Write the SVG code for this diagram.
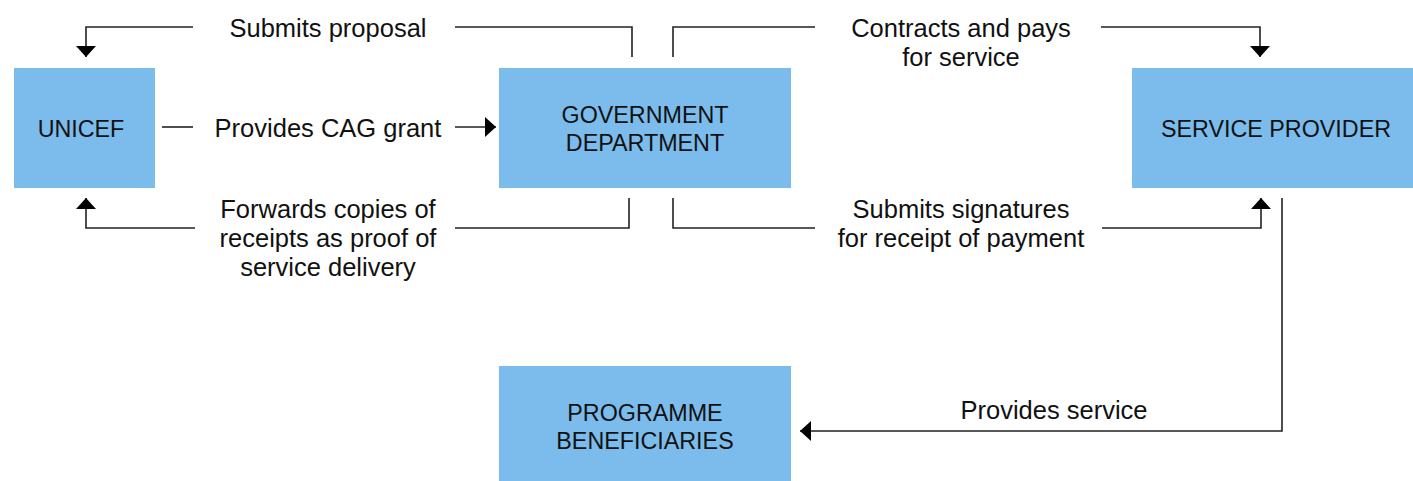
<svg xmlns="http://www.w3.org/2000/svg" width="1413" height="481" viewBox="0 0 1413 481">
  <style>
    .box { fill: #7bbcec; }
    .node-text { font-family: "Liberation Sans", Arial, sans-serif; font-size: 23.3px; fill: #111; text-anchor: middle; }
    .label { font-family: "Liberation Sans", Arial, sans-serif; font-size: 25.5px; fill: #111; text-anchor: middle; }
    .wire { fill: none; stroke: #222; stroke-width: 1.6; }
  </style>
  <defs>
    <marker id="arrow" markerUnits="userSpaceOnUse" markerWidth="13" markerHeight="22" refX="11" refY="10" orient="auto">
      <path d="M0,0 L11,10 L0,20 Z" fill="#000"/>
    </marker>
  </defs>

  <rect width="1413" height="481" fill="#fff"/>

  <!-- Nodes -->
  <g id="unicef">
    <rect class="box" x="14" y="68" width="141" height="120"/>
    <text class="node-text" x="81" y="137">UNICEF</text>
  </g>
  <g id="government-department">
    <rect class="box" x="499" y="68" width="292" height="120"/>
    <text class="node-text" x="645" y="123">GOVERNMENT</text>
    <text class="node-text" x="645" y="151">DEPARTMENT</text>
  </g>
  <g id="service-provider">
    <rect class="box" x="1132" y="68" width="281" height="120"/>
    <text class="node-text" x="1276" y="137">SERVICE PROVIDER</text>
  </g>
  <g id="programme-beneficiaries">
    <rect class="box" x="499" y="366" width="292" height="115"/>
    <text class="node-text" x="645" y="421">PROGRAMME</text>
    <text class="node-text" x="645" y="449">BENEFICIARIES</text>
  </g>

  <!-- Connectors -->
  <g id="connectors">
    <!-- Government -> UNICEF: submits proposal -->
    <path class="wire" d="M632,57 V27 H455"/>
    <path class="wire" d="M193,27 H86 V57" marker-end="url(#arrow)"/>
    <text class="label" x="328" y="37">Submits proposal</text>

    <!-- Government -> Service provider: contracts and pays -->
    <path class="wire" d="M673,57 V27 H815"/>
    <path class="wire" d="M1101,27 H1260 V57" marker-end="url(#arrow)"/>
    <text class="label" x="961" y="37">Contracts and pays</text>
    <text class="label" x="961" y="66">for service</text>

    <!-- UNICEF -> Government: CAG grant -->
    <path class="wire" d="M162,127 H193"/>
    <path class="wire" d="M455,127 H496" marker-end="url(#arrow)"/>
    <text class="label" x="328" y="137">Provides CAG grant</text>

    <!-- Government -> UNICEF: receipts -->
    <path class="wire" d="M629,198 V228 H455"/>
    <path class="wire" d="M195,228 H86 V198" marker-end="url(#arrow)"/>
    <text class="label" x="328" y="218">Forwards copies of</text>
    <text class="label" x="328" y="247">receipts as proof of</text>
    <text class="label" x="328" y="276">service delivery</text>

    <!-- Government -> Service provider: signatures -->
    <path class="wire" d="M673,198 V228 H815"/>
    <path class="wire" d="M1102,228 H1261 V198" marker-end="url(#arrow)"/>
    <text class="label" x="961" y="218">Submits signatures</text>
    <text class="label" x="961" y="247">for receipt of payment</text>

    <!-- Service provider -> Beneficiaries -->
    <path class="wire" d="M1282,198 V431 H800" marker-end="url(#arrow)"/>
    <text class="label" x="1054" y="419">Provides service</text>
  </g>
</svg>
